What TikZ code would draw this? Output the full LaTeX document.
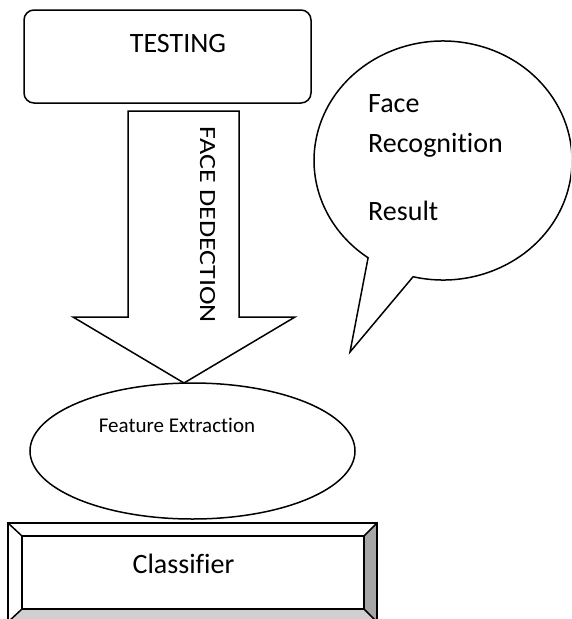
\documentclass[tikz,border=0pt]{standalone}
\usepackage{fontspec}
\setmainfont{Carlito}[Ligatures=NoCommon]
\usetikzlibrary{shapes.geometric,calc}

\definecolor{bevelside}{HTML}{A6A6A6}
\definecolor{bevelbottom}{HTML}{D0D0D0}

\tikzset{
  outline/.style={draw=black, line width=1.5pt, line join=miter},
  bigtext/.style={font=\fontsize{28}{30}\selectfont, inner sep=0pt, text=black},
  smalltext/.style={font=\fontsize{21}{23}\selectfont, inner sep=0pt, text=black},
}

\begin{document}
\begin{tikzpicture}[x=1pt, y=1pt]
  \useasboundingbox (0,0) rectangle (571,-619);
  \clip (0,0) rectangle (571,-619);
  \fill[white] (0,0) rectangle (571,-619);

  % testing box
  \node[outline, rounded corners=10pt, minimum width=287pt, minimum height=93pt,
        inner sep=0pt] (testing) at (167.5,-56.5) {};
  \node[bigtext, anchor=base] (testinglbl) at (178,-52) {TESTING};

  % block arrow for face detection
  \coordinate (shaftTL) at (128,-111);
  \coordinate (shaftTR) at (239,-111);
  \coordinate (shaftBR) at (239,-317);
  \coordinate (wingR)  at (295,-317);
  \coordinate (tip)    at (184,-383);
  \coordinate (wingL)  at (73,-317);
  \coordinate (shaftBL) at (128,-317);
  \draw[outline, fill=white] (shaftTL) -- (shaftTR) -- (shaftBR) -- (wingR)
        -- (tip) -- (wingL) -- (shaftBL) -- cycle;
  \node[bigtext, anchor=base, rotate=-90] (detlbl) at (200,-225)
        {\scalebox{1}[0.83]{FACE DEDECTION}};

  % feature extraction ellipse
  \node[outline, ellipse, minimum width=325pt, minimum height=136pt,
        inner sep=0pt] (feature) at (192.5,-451) {};
  \node[smalltext, anchor=base] (featurelbl) at (177,-432) {Feature Extraction};

  % speech bubble with result
  \coordinate (bubC) at (443,-160.5);
  \coordinate (tailB) at ($(bubC)+(256.6:129pt and 119.5pt)$);
  \coordinate (tailTip) at (350,-352);
  \draw[outline, fill=white]
        (tailB)
        arc[start angle=256.6, end angle=594.5, x radius=129pt, y radius=119.5pt]
        -- (tailTip) -- cycle;
  \node[bigtext, anchor=base west] (face) at (368,-112) {Face};
  \node[bigtext, anchor=base west] (recog) at (368,-152) {Recognition};
  \node[bigtext, anchor=base west] (result) at (368,-220) {Result};

  % bevelled classifier button
  \coordinate (oTL) at (8,-523);
  \coordinate (oTR) at (377,-523);
  \coordinate (oBR) at (377,-622);
  \coordinate (oBL) at (8,-622);
  \coordinate (iTL) at (22,-536);
  \coordinate (iTR) at (364,-536);
  \coordinate (iBR) at (364,-609);
  \coordinate (iBL) at (22,-609);
  \fill[white] (oTL) rectangle (oBR);
  \fill[bevelside] (iTR) -- (oTR) -- (oBR) -- (iBR) -- cycle;
  \fill[bevelbottom] (iBL) -- (iBR) -- (oBR) -- (oBL) -- cycle;
  \draw[outline] (oTL) rectangle (oBR);
  \draw[outline] (iTL) rectangle (iBR);
  \draw[outline] (oTL) -- (iTL) (oTR) -- (iTR) (oBR) -- (iBR) (oBL) -- (iBL);
  \node[bigtext, anchor=base] (classlbl) at (183.5,-573) {Classifier};
\end{tikzpicture}
\end{document}
